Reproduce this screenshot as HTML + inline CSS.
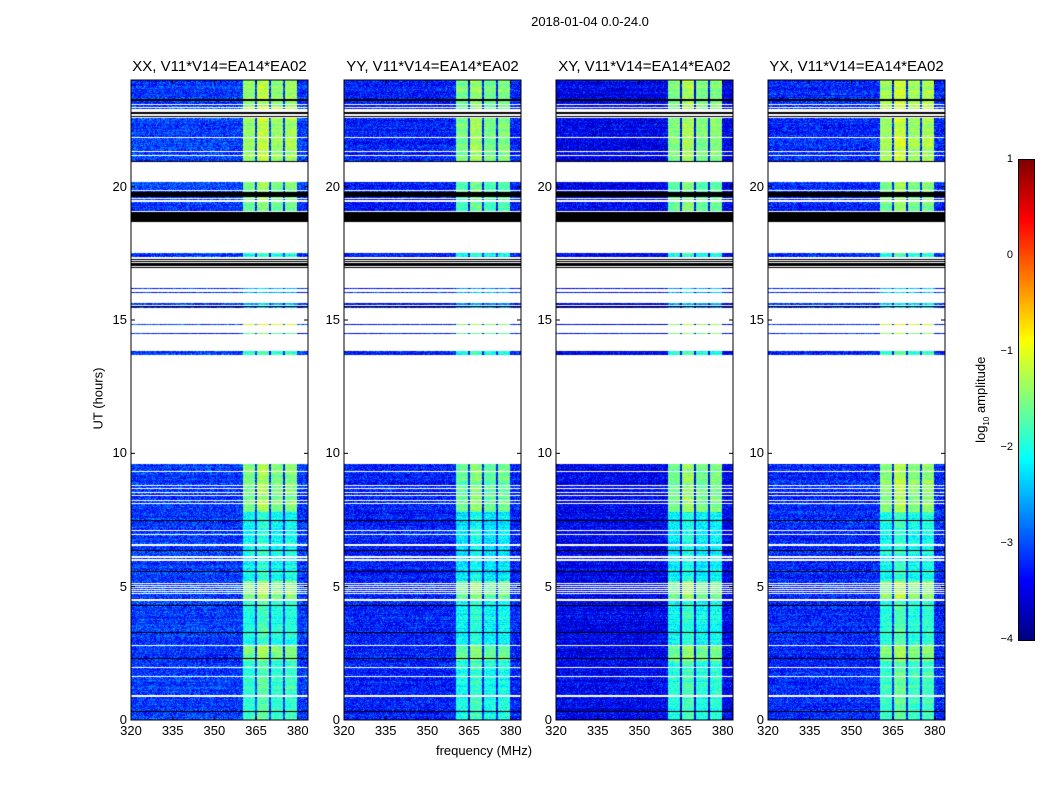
<!DOCTYPE html>
<html><head><meta charset="utf-8">
<style>
body{margin:0;background:#fff;width:1050px;height:800px;overflow:hidden;font-family:"Liberation Sans",sans-serif;}
#root{position:relative;width:1050px;height:800px;}
.t{position:absolute;color:#000;white-space:nowrap;}
canvas{position:absolute;}
</style></head>
<body>
<div id="root">
<div class="t" style="left:490px;top:14px;width:200px;text-align:center;font-size:13px;">2018-01-04 0.0-24.0</div>
<div class="t" style="left:384px;top:743px;width:200px;text-align:center;font-size:13px;">frequency (MHz)</div>
<div class="t" style="left:48px;top:391px;width:100px;text-align:center;font-size:13px;transform:rotate(-90deg);">UT (hours)</div>
<div class="t" style="left:922px;top:391px;width:120px;text-align:center;font-size:13px;transform:rotate(-90deg);">log<sub style="font-size:8px">10</sub> amplitude</div>
<canvas id="cbar" width="15" height="480" style="left:1019px;top:160px;border:1px solid #000;margin:-1px;"></canvas>
</div>
<script>
// ---- data ----
const panelTitles = ["XX, V11*V14=EA14*EA02","YY, V11*V14=EA14*EA02","XY, V11*V14=EA14*EA02","YX, V11*V14=EA14*EA02"];
const panelBg = [-3.1,-3.25,-3.45,-3.2];
const panelBandOffset = [0,-0.15,-0.1,0.05];
const xTicks = [320,335,350,365,380];
const yTicks = [0,5,10,15,20];
const cbarTicks = [1,0,-1,-2,-3,-4];
const bandLo = [360.3,365.3,370.3,375.3];
const bandHi = [364.8,369.8,374.8,379.7];
const bandBoost = [0,0.2,0,0.05];
const segStart = [0,2.2,2.8,4.5,5.2,7.8,13.67,14.46,14.8,15.46,15.58,16.02,16.15,17.35,19.04,20.97,22.9];
const segEnd   = [2.2,2.8,4.5,5.2,7.8,9.61,13.82,14.5,14.84,15.5,15.62,16.06,16.19,17.5,20.16,22.56,24];
const segBand  = [-1.9,-1.5,-2.0,-1.5,-2.1,-1.5,-1.9,-1.5,-1.2,-2.5,-2.5,-2.5,-2.5,-2.0,-1.6,-1.4,-1.4];
const blackStart = [18.66,19.6];
const blackEnd   = [19.04,19.8];
const blackLines = [0.33,2.34,3.3,4.31,5.58,6.37,7.49,17.0,17.08,17.15,17.22,17.3,20.97,22.66,22.78,23.27,15.52];
const whiteLines = [0.92,1.65,1.99,2.8,4.52,4.77,4.85,4.92,5.0,5.07,5.14,5.99,6.05,6.1,6.14,6.58,6.97,7.14,8.15,8.25,8.45,8.55,8.69,8.8,9.33,19.08,19.45,19.5,19.57,19.86,21.85,21.35,21.2,22.9,23.0,23.1];
const fMin=320,fMax=383.7,W=177,H=640;
const panelLeft=[131,344,556,768],panelTop=80;

function jet(v){let t=(v+4)/5;t=Math.max(0,Math.min(1,t));
 const c=x=>Math.round(255*Math.max(0,Math.min(1,1.5-Math.abs(x))));
 return [c(4*t-3),c(4*t-2),c(4*t-1)];}
function hash(a,b,p){let h=(a*374761393+b*668265263+p*2147483647)|0;h=(h^(h>>>13))*1274126177|0;return ((h^(h>>>16))>>>0)/4294967295;}
const root=document.getElementById('root');
function txt(name,s,x,y,w,align,size){const d=document.createElement('div');d.className='t';
 
 
 d.style.cssText=`left:${x}px;top:${y}px;width:${w}px;text-align:${align};font-size:${size}px;`;d.textContent=s;root.appendChild(d);}
const yOf=h=>H*(1-h/24), xOf=f=>W*(f-fMin)/(fMax-fMin);

panelTitles.forEach((title,p)=>{
 const L=panelLeft[p];
 const cv=document.createElement('canvas');cv.width=W;cv.height=H;
 
 
 cv.style.left=L+'px';cv.style.top=panelTop+'px';root.appendChild(cv);
 const ctx=cv.getContext('2d');const img=ctx.createImageData(W,H);
 for(let y=0;y<H;y++){const h=24*(H-y-0.5)/H;
  let seg=-1;for(let i=0;i<segStart.length;i++)if(h>=segStart[i]&&h<segEnd[i]){seg=i;break;}
  let black=false;for(let i=0;i<blackStart.length;i++)if(h>=blackStart[i]&&h<blackEnd[i])black=true;
  for(const b of blackLines)if(Math.abs(yOf(b)-y)<0.6)black=true;
  let white=seg<0;for(const w of whiteLines)if(Math.abs(yOf(w)-y)<0.6)white=true;
  const rowJit=(hash(0,y,p+5)-0.5)*0.3;
  for(let x=0;x<W;x++){const k=(y*W+x)*4;let col;
   if(black)col=[0,0,0];
   else if(white)col=[255,255,255];
   else{const f=fMin+(x+0.5)*(fMax-fMin)/W;let v=panelBg[p]+rowJit+(hash(x,y,p)-0.5)*0.9;
    for(let b=0;b<bandLo.length;b++)if(f>=bandLo[b]&&f<bandHi[b])v=segBand[seg]+bandBoost[b]+panelBandOffset[p]+rowJit+(hash(x,y,p+9)-0.5)*0.6;
    col=jet(v);}
   img.data[k]=col[0];img.data[k+1]=col[1];img.data[k+2]=col[2];img.data[k+3]=255;}}
 ctx.putImageData(img,0,0);
 const svgNS='http://www.w3.org/2000/svg';
 const sv=document.createElementNS(svgNS,'svg');sv.setAttribute('width',W+2);sv.setAttribute('height',H+2);
 
 
 sv.style.cssText=`position:absolute;left:${L-1}px;top:${panelTop-1}px;`;
 let s=`<rect x="1" y="1" width="${W}" height="${H}" fill="none" stroke="#000"/>`;
 xTicks.forEach(t=>{const x=1+xOf(t);s+=`<line x1="${x}" x2="${x}" y1="${H+1}" y2="${H-3}" stroke="#000"/><line x1="${x}" x2="${x}" y1="1" y2="5" stroke="#000"/>`;});
 yTicks.forEach(t=>{const y=1+yOf(t);s+=`<line x1="1" x2="5" y1="${y}" y2="${y}" stroke="#000"/><line x1="${W+1}" x2="${W-3}" y1="${y}" y2="${y}" stroke="#000"/>`;});
 sv.innerHTML=s;root.appendChild(sv);
 txt('panel-title-'+(p+1),title,L-30,58,W+60,'center',15);
 xTicks.forEach(t=>txt('x-tick-'+t,String(t),L+xOf(t)-20,723,40,'center',13));
 yTicks.forEach(t=>txt('y-tick-'+t,String(t),L-44,panelTop+yOf(t)-8,40,'right',13));
});
// colorbar
const cb=document.getElementById('cbar').getContext('2d');
for(let y=0;y<480;y++){const c=jet(1-5*(y+0.5)/480);cb.fillStyle=`rgb(${c})`;cb.fillRect(0,y,15,1);}
cbarTicks.forEach(t=>txt('colorbar-tick-'+t,String(t).replace('-','\u2212'),973,160+(1-t)*96-7,40,'right',11));
</script>
</body></html>
